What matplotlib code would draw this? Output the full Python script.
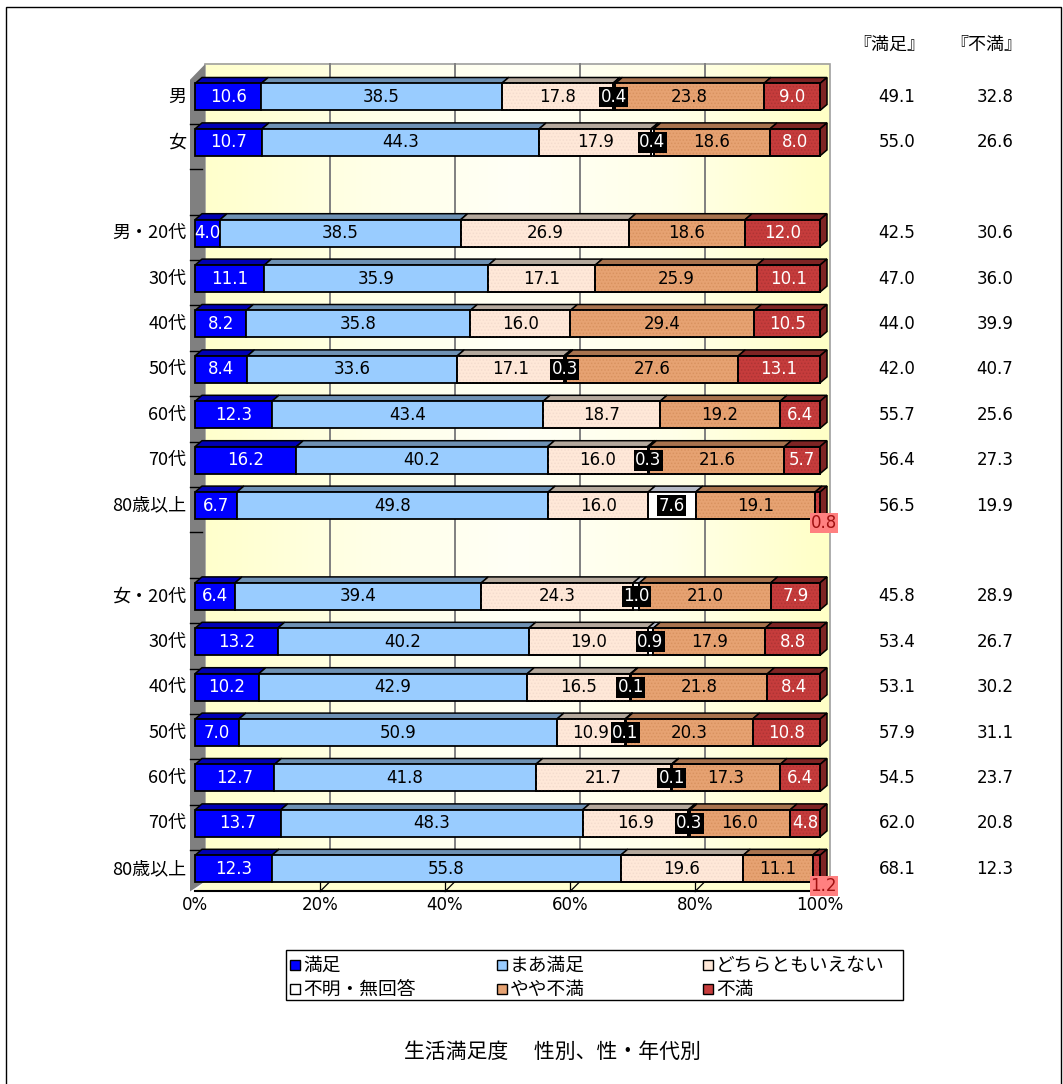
import numpy as np
import matplotlib.pyplot as plt
from matplotlib.patches import Polygon, Rectangle
from matplotlib.colors import LinearSegmentedColormap

plt.rcParams['font.family'] = ['Noto Sans CJK JP', 'DejaVu Sans']
plt.rcParams['hatch.linewidth'] = 0.7

# rows top to bottom; empty strings are spacer rows
categories = ['男', '女', '', '男・20代', '30代', '40代', '50代', '60代', '70代', '80歳以上',
              '', '女・20代', '30代', '40代', '50代', '60代', '70代', '80歳以上']

manzoku = [10.6, 10.7, None, 4.0, 11.1, 8.2, 8.4, 12.3, 16.2, 6.7,
           None, 6.4, 13.2, 10.2, 7.0, 12.7, 13.7, 12.3]
maa_manzoku = [38.5, 44.3, None, 38.5, 35.9, 35.8, 33.6, 43.4, 40.2, 49.8,
               None, 39.4, 40.2, 42.9, 50.9, 41.8, 48.3, 55.8]
dochira = [17.8, 17.9, None, 26.9, 17.1, 16.0, 17.1, 18.7, 16.0, 16.0,
           None, 24.3, 19.0, 16.5, 10.9, 21.7, 16.9, 19.6]
fumei = [0.4, 0.4, None, 0.0, 0.0, 0.0, 0.3, 0.0, 0.3, 7.6,
         None, 1.0, 0.9, 0.1, 0.1, 0.1, 0.3, 0.0]
yaya_fuman = [23.8, 18.6, None, 18.6, 25.9, 29.4, 27.6, 19.2, 21.6, 19.1,
              None, 21.0, 17.9, 21.8, 20.3, 17.3, 16.0, 11.1]
fuman = [9.0, 8.0, None, 12.0, 10.1, 10.5, 13.1, 6.4, 5.7, 0.8,
         None, 7.9, 8.8, 8.4, 10.8, 6.4, 4.8, 1.2]

# totals shown in the two right-hand columns
total_manzoku = [49.1, 55.0, None, 42.5, 47.0, 44.0, 42.0, 55.7, 56.4, 56.5,
                 None, 45.8, 53.4, 53.1, 57.9, 54.5, 62.0, 68.1]
total_fuman = [32.8, 26.6, None, 30.6, 36.0, 39.9, 40.7, 25.6, 27.3, 19.9,
               None, 28.9, 26.7, 30.2, 31.1, 23.7, 20.8, 12.3]

series_names = ['満足', 'まあ満足', 'どちらともいえない', '不明・無回答', 'やや不満', '不満']
series = [manzoku, maa_manzoku, dochira, fumei, yaya_fuman, fuman]

front_colors = ['#0000FF', '#99CCFF', '#FFE8D8', '#FFFFFF', '#E6A272', '#C63C3C']
top_colors = ['#0000B4', '#6E91B4', '#B4A89C', '#B4B8C4', '#A8734E', '#7E2424']
hatch_colors = [None, None, '#F4DCCE', None, '#D8925F', '#AE3434']
text_colors = ['white', 'black', 'black', 'white', 'black', 'white']

NUM_FONT = 'DejaVu Sans'

W, H = 1063, 1084
fig = plt.figure(figsize=(W / 100, H / 100), dpi=100)

# pixel geometry: 0% at X0, row 0 at Y0
X0, XS = 195, 6.25
Y0, YS = 97, 45.4
AX_L, AX_R, AX_T, AX_B = 100, 1063, 20, 940
ax = fig.add_axes([AX_L / W, 1 - AX_B / H, (AX_R - AX_L) / W, (AX_B - AX_T) / H])
ax.set_xlim((AX_L - X0) / XS, (AX_R - X0) / XS)
ax.set_ylim((AX_B - Y0) / YS, (AX_T - Y0) / YS)
ax.axis('off')

n = len(categories)
y_top, y_bot = -0.5, n - 0.5
DX, DY = 10 / XS, -10 / YS      # depth of the walls
BDX, BDY = 7 / XS, -6 / YS      # depth of the bars
hh = 13.5 / YS                  # half bar height

# back wall with a soft yellow gradient
grad = LinearSegmentedColormap.from_list(
    'wall', ['#FFFFCC', '#FFFFE6', '#FFFFF6', '#FFFFE8', '#FFFFC6'])
ax.imshow(np.linspace(0, 1, 256)[None, :], cmap=grad, aspect='auto',
          extent=(DX, 100 + DX, y_bot + DY, y_top + DY), zorder=0)
ax.add_patch(Rectangle((DX, y_top + DY), 100, y_bot - y_top, fill=False,
                       ec='#A0A0A0', lw=1.2, zorder=1))

# floor
ax.add_patch(Polygon([(0, y_bot), (100, y_bot), (100 + DX, y_bot + DY), (DX, y_bot + DY)],
                     closed=True, fc='#FFFFD0', ec='none', zorder=1))

# left wall
ax.add_patch(Polygon([(-0.8, y_top + 0.12), (DX, y_top + DY), (DX, y_bot + DY), (-0.8, y_bot)],
                     closed=True, fc='#808080', ec='none', zorder=1))
for b in np.arange(0.5, n - 1, 1.0):
    ax.plot([-0.8, 1.1], [b + 0.09, b + 0.09], color='black', lw=1, zorder=2)

# gridlines on wall and floor
for g in [20, 40, 60, 80]:
    ax.plot([g + DX, g + DX], [y_top + DY, y_bot + DY], color='#808080', lw=1.4, zorder=1.5)
    ax.plot([g, g + DX], [y_bot, y_bot + DY], color='black', lw=0.9, zorder=1.5)
    ax.plot([g, g], [y_bot, y_bot + DY], color='black', lw=0.9, zorder=1.5)
ax.plot([0, 100], [y_bot, y_bot], color='black', lw=1.5, zorder=2)

# stacked 3D bars
for i, cat in enumerate(categories):
    vals = [s[i] for s in series]
    if vals[0] is None:
        continue
    total = sum(vals)
    widths = [v / total * 100 for v in vals]
    lefts = np.concatenate([[0], np.cumsum(widths)[:-1]])
    last = max(j for j, v in enumerate(vals) if v > 0)
    for j, (v, w, l) in enumerate(zip(vals, widths, lefts)):
        if v <= 0:
            continue
        ax.add_patch(Polygon([(l, i - hh), (l + w, i - hh), (l + w + BDX, i - hh + BDY),
                              (l + BDX, i - hh + BDY)], closed=True,
                             fc=top_colors[j], ec='black', lw=1.1, zorder=3))
        ax.barh(i, w, left=l, height=2 * hh, color=front_colors[j],
                edgecolor='black', linewidth=1.3, zorder=4)
        if hatch_colors[j]:
            ax.barh(i, w, left=l, height=2 * hh, color='none', edgecolor=hatch_colors[j],
                    linewidth=0, hatch='.....', zorder=4.1)
            ax.barh(i, w, left=l, height=2 * hh, color='none',
                    edgecolor='black', linewidth=1.3, zorder=4.2)
        if j == last:
            ax.add_patch(Polygon([(l + w, i - hh), (l + w + BDX, i - hh + BDY),
                                  (l + w + BDX, i + hh + BDY), (l + w, i + hh)], closed=True,
                                 fc=top_colors[j], ec='black', lw=1.1, zorder=3))

        label = f'{v:.1f}'
        cx = l + w / 2
        if j == 3:
            ax.text(cx, i, label, ha='center', va='center', color='white',
                    fontsize=12, family=NUM_FONT, zorder=6,
                    bbox=dict(boxstyle='square,pad=0.08', fc='black', ec='none'))
        elif j == last and w < 2:
            # thin end segment: value sits in a tag below the bar end
            ax.text(100.6, i + 0.38, label, ha='center', va='center', color='#A01010',
                    fontsize=12, family=NUM_FONT, zorder=6,
                    bbox=dict(boxstyle='square,pad=0.05', fc='#FF8080', ec='none'))
        else:
            ax.text(cx, i, label, ha='center', va='center', color=text_colors[j],
                    fontsize=12, family=NUM_FONT, zorder=5)

    ax.text(-1.4, i, cat, ha='right', va='center', fontsize=13)
    ax.text(112.3, i, f'{total_manzoku[i]:.1f}', ha='center', va='center',
            fontsize=12, family=NUM_FONT)
    ax.text(128.0, i, f'{total_fuman[i]:.1f}', ha='center', va='center',
            fontsize=12, family=NUM_FONT)

ax.text(111.0, -1.15, '『満足』', ha='center', va='center', fontsize=13)
ax.text(126.6, -1.15, '『不満』', ha='center', va='center', fontsize=13)

for t in range(0, 101, 20):
    ax.text(t, y_bot + 0.29, f'{t}%', ha='center', va='center', fontsize=12,
            family=NUM_FONT)

# legend box, filled row by row
def fx(x):
    return x / W


def fy(y):
    return 1 - y / H


fig.patches.append(Rectangle((fx(286), fy(1000)), 617 / W, 50 / H, transform=fig.transFigure,
                             fill=False, ec='black', lw=1))
legend_cols = [290, 497, 703]
legend_rows = [965, 989]
for k, name in enumerate(series_names):
    x = legend_cols[k % 3]
    y = legend_rows[k // 3]
    fig.patches.append(Rectangle((fx(x), fy(y + 5)), 10 / W, 10 / H, transform=fig.transFigure,
                                 fc=front_colors[k], ec='black', lw=1))
    fig.text(fx(x + 13), fy(y), name, ha='left', va='center', fontsize=13.5)

fig.text(fx(552), fy(1052), '生活満足度　 性別、性・年代別', ha='center', va='center',
         fontsize=15)

# outer frame
fig.patches.append(Rectangle((fx(6), -0.02), (1061 - 6) / W, fy(7) + 0.02,
                             transform=fig.transFigure, fill=False, ec='black', lw=1))

fig.savefig('out.png', dpi=100)
